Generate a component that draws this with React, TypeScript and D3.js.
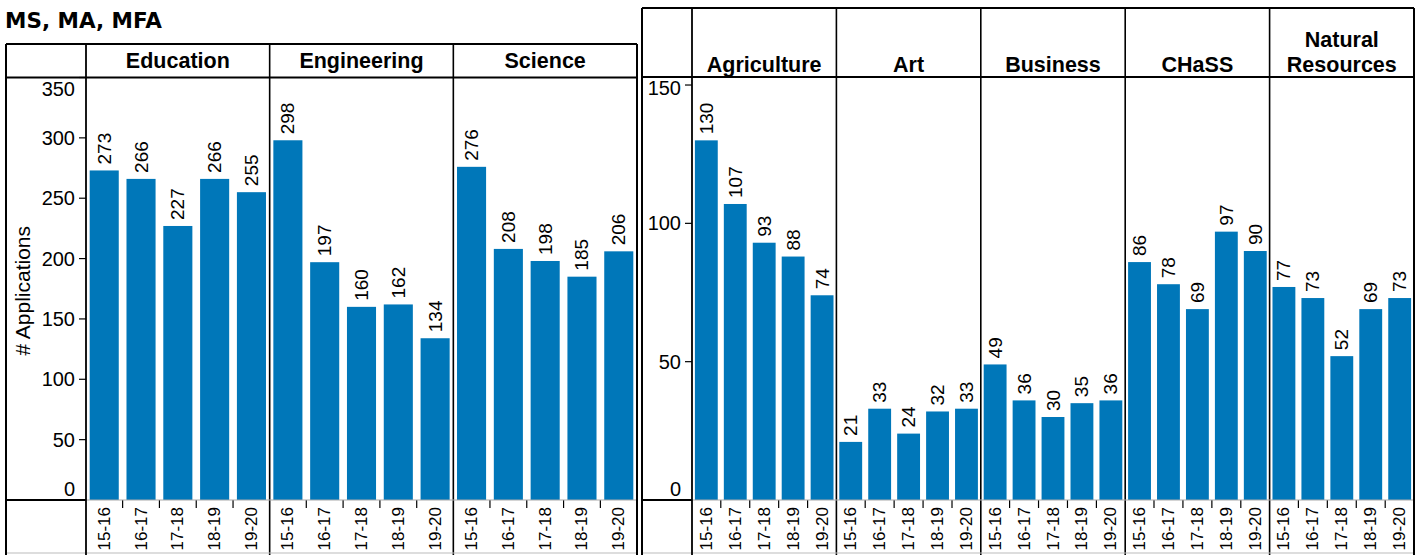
import React from "react";
import * as d3 from "d3";

const years = ["15-16", "16-17", "17-18", "18-19", "19-20"];

const leftFacets = ["Education", "Engineering", "Science"];
const educationValues = [273, 266, 227, 266, 255];
const engineeringValues = [298, 197, 160, 162, 134];
const scienceValues = [276, 208, 198, 185, 206];

const rightFacets = ["Agriculture", "Art", "Business", "CHaSS", "Natural Resources"];
const agricultureValues = [130, 107, 93, 88, 74];
const artValues = [21, 33, 24, 32, 33];
const businessValues = [49, 36, 30, 35, 36];
const chassValues = [86, 78, 69, 97, 90];
const naturalResourcesValues = [77, 73, 52, 69, 73];

const leftTicks = [0, 50, 100, 150, 200, 250, 300, 350];
const rightTicks = [0, 50, 100, 150];

const title = "MS, MA, MFA";
const yTitle = "# Applications";

const BAR = "#0077b9";
const FONT = "'Liberation Sans', Arial, sans-serif";

type PanelProps = {
  x0: number;
  x1: number;
  top: number;
  headerBottom: number;
  axisRight: number;
  facets: string[];
  values: number[][];
  ticks: number[];
  domainMax: number;
  showYTitle: boolean;
};

const ZERO_Y = 500;
const BOTTOM = 555;

function Panel(p: PanelProps) {
  const y = d3.scaleLinear().domain([0, p.domainMax]).range([ZERO_Y, p.headerBottom]);
  const facetW = (p.x1 - p.axisRight) / p.facets.length;
  return (
    <g>
      {p.ticks.map((t) => {
        const ty = y(t);
        const ly = Math.max(p.headerBottom + 11, Math.min(ZERO_Y - 11, ty));
        return (
          <g key={t}>
            <line x1={p.axisRight - 7} x2={p.axisRight} y1={ty} y2={ty} stroke="#000" strokeWidth={1.2} />
            <text x={p.axisRight - 11} y={ly} textAnchor="end" dominantBaseline="central" fontSize={20} fontFamily={FONT}>
              {t}
            </text>
          </g>
        );
      })}
      {p.showYTitle && (
        <text
          transform={`translate(${p.x0 + 16},${(p.headerBottom + ZERO_Y) / 2 + 2}) rotate(-90)`}
          textAnchor="middle"
          dominantBaseline="central"
          fontSize={21}
          fontFamily={FONT}
        >
          {yTitle}
        </text>
      )}
      {p.facets.map((f, i) => {
        const fx0 = p.axisRight + i * facetW;
        const xb = d3.scaleBand<string>().domain(years).range([fx0, fx0 + facetW]).paddingInner(0.21).paddingOuter(0.1);
        const lines = f.split(" ");
        const headerMid = (p.top + p.headerBottom) / 2;
        return (
          <g key={f}>
            {lines.length === 1 ? (
              <text
                x={fx0 + facetW / 2}
                y={p.facets.length > 3 ? p.headerBottom - 5 : headerMid + 7.5}
                textAnchor="middle"
                fontWeight="bold"
                fontSize={21.5}
                fontFamily={FONT}
              >
                {f}
              </text>
            ) : (
              lines.map((l, k) => (
                <text
                  key={l}
                  x={fx0 + facetW / 2}
                  y={p.headerBottom - 5 - (lines.length - 1 - k) * 25}
                  textAnchor="middle"
                  fontWeight="bold"
                  fontSize={21.5}
                  fontFamily={FONT}
                >
                  {l}
                </text>
              ))
            )}
            {years.map((yr, j) => {
              const v = p.values[i][j];
              const bx = xb(yr)!;
              const cx = bx + xb.bandwidth() / 2;
              return (
                <g key={yr}>
                  <rect x={bx} y={y(v)} width={xb.bandwidth()} height={ZERO_Y - y(v)} fill={BAR} />
                  <text
                    transform={`translate(${cx},${y(v) - 6}) rotate(-90)`}
                    textAnchor="start"
                    dominantBaseline="central"
                    fontSize={19}
                    fontFamily={FONT}
                  >
                    {v}
                  </text>
                  <text
                    transform={`translate(${cx},${ZERO_Y + 7}) rotate(-90)`}
                    textAnchor="end"
                    dominantBaseline="central"
                    fontSize={17}
                    fontFamily={FONT}
                  >
                    {yr}
                  </text>
                  {j > 0 && (
                    <line
                      x1={bx - (xb.step() - xb.bandwidth()) / 2}
                      x2={bx - (xb.step() - xb.bandwidth()) / 2}
                      y1={ZERO_Y}
                      y2={ZERO_Y + 8}
                      stroke="#000"
                      strokeWidth={1.2}
                    />
                  )}
                </g>
              );
            })}
            {i > 0 && <line x1={fx0} x2={fx0} y1={p.top} y2={BOTTOM} stroke="#000" strokeWidth={1.6} />}
          </g>
        );
      })}
      <line x1={p.axisRight} x2={p.x1} y1={ZERO_Y} y2={ZERO_Y} stroke="#aaa" strokeWidth={1} />
      <line x1={p.x0} x2={p.axisRight} y1={ZERO_Y} y2={ZERO_Y} stroke="#000" strokeWidth={1.8} />
      <line x1={p.x0} x2={p.x1} y1={553} y2={553} stroke="#bbb" strokeWidth={1.2} />
      <line x1={p.x0} x2={p.x1} y1={p.headerBottom} y2={p.headerBottom} stroke="#000" strokeWidth={1.8} />
      <line x1={p.axisRight} x2={p.axisRight} y1={p.top} y2={BOTTOM} stroke="#000" strokeWidth={1.8} />
      <line x1={p.x0} x2={p.x1} y1={p.top} y2={p.top} stroke="#000" strokeWidth={2} />
      <line x1={p.x0} x2={p.x0} y1={p.top} y2={BOTTOM} stroke="#000" strokeWidth={2} />
      <line x1={p.x1} x2={p.x1} y1={p.top} y2={BOTTOM} stroke="#000" strokeWidth={2} />
    </g>
  );
}

export default function App() {
  return (
    <svg
      width={1421}
      height={555}
      style={{ position: "absolute", left: 0, top: 0, background: "#fff" }}
    >
      <rect width={1421} height={555} fill="#fff" />
      <text x={5} y={28} fontFamily="'DejaVu Sans', Verdana, sans-serif" fontWeight="bold" fontSize={21.5}>
        {title}
      </text>
      <Panel
        x0={6}
        x1={637}
        top={44}
        headerBottom={77.5}
        axisRight={86}
        facets={leftFacets}
        values={[educationValues, engineeringValues, scienceValues]}
        ticks={leftTicks}
        domainMax={350}
        showYTitle={true}
      />
      <Panel
        x0={642}
        x1={1414}
        top={8}
        headerBottom={77}
        axisRight={692}
        facets={rightFacets}
        values={[agricultureValues, artValues, businessValues, chassValues, naturalResourcesValues]}
        ticks={rightTicks}
        domainMax={152.9}
        showYTitle={false}
      />
    </svg>
  );
}
